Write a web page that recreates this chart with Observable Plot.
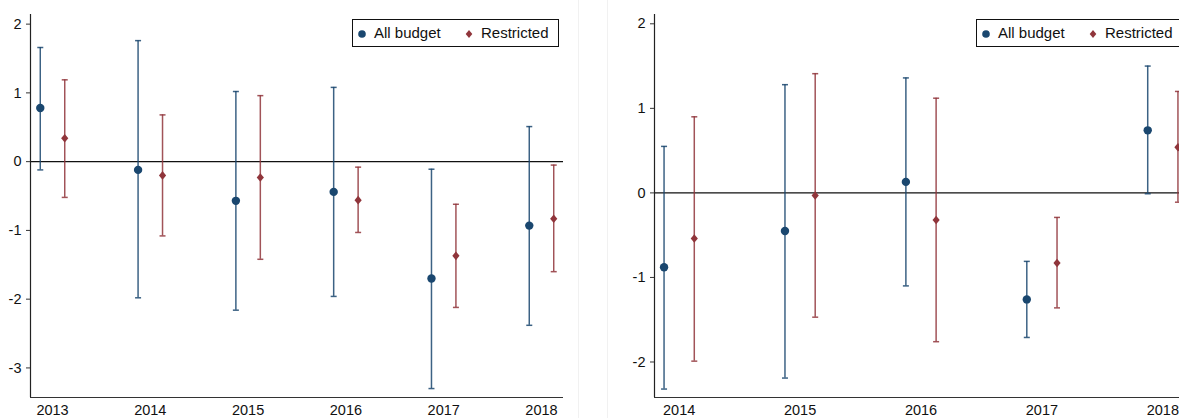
<!DOCTYPE html>
<html>
<head>
<meta charset="utf-8">
<script src="https://cdn.jsdelivr.net/npm/d3@7"></script>
<script src="https://cdn.jsdelivr.net/npm/@observablehq/plot@0.6"></script>
<style>
  html, body { margin: 0; padding: 0; background: #fff; }
  #wrap { position: relative; width: 1179px; height: 418px; overflow: hidden; font-family: "Liberation Sans", Arial, Helvetica, sans-serif; }
  .panel { position: absolute; top: 0; }
  .panel svg { max-width: none !important; }
  .sep { position: absolute; top: 0; width: 1px; height: 418px; background: #f1f1f1; }
  .legend { position: absolute; top: 19px; height: 28px; border: 1px solid #111; box-sizing: border-box; background: #fff; font-size: 15px; color: #111; }
  .legend span { position: absolute; top: 4px; white-space: nowrap; }
  .legend svg { position: absolute; top: 8px; }
</style>
</head>
<body>
<div id="wrap">
  <div class="panel" id="left" style="left:0px; width:578px"></div>
  <div class="sep" style="left:578px"></div>
  <div class="sep" style="left:607px"></div>
  <div class="panel" id="right" style="left:578px; width:620px"></div>
</div>
<script>
// ---- Data: left panel ----
const yearsLeft = [2013, 2014, 2015, 2016, 2017, 2018];
const leftAllEst = [0.78, -0.12, -0.57, -0.44, -1.70, -0.93];
const leftAllLo  = [-0.12, -1.98, -2.16, -1.96, -3.30, -2.38];
const leftAllHi  = [1.66, 1.76, 1.02, 1.08, -0.11, 0.51];
const leftResEst = [0.34, -0.20, -0.23, -0.56, -1.37, -0.83];
const leftResLo  = [-0.52, -1.08, -1.42, -1.03, -2.12, -1.60];
const leftResHi  = [1.19, 0.68, 0.96, -0.08, -0.62, -0.05];
const leftYTicks = [-3, -2, -1, 0, 1, 2];

// ---- Data: right panel ----
const yearsRight = [2014, 2015, 2016, 2017, 2018];
const rightAllEst = [-0.88, -0.45, 0.13, -1.26, 0.74];
const rightAllLo  = [-2.32, -2.19, -1.10, -1.71, -0.01];
const rightAllHi  = [0.55, 1.28, 1.36, -0.81, 1.50];
const rightResEst = [-0.54, -0.03, -0.32, -0.83, 0.54];
const rightResLo  = [-1.99, -1.47, -1.76, -1.36, -0.11];
const rightResHi  = [0.90, 1.41, 1.12, -0.29, 1.20];
const rightYTicks = [-2, -1, 0, 1, 2];

const seriesNames = ["All budget", "Restricted"];
const colors = {"All budget": "#1a476f", "Restricted": "#90353b"};

function rows(years, allEst, allLo, allHi, resEst, resLo, resHi) {
  const out = [];
  years.forEach((y, i) => {
    out.push({year: y, series: "All budget", est: allEst[i], lo: allLo[i], hi: allHi[i]});
    out.push({year: y, series: "Restricted", est: resEst[i], lo: resLo[i], hi: resHi[i]});
  });
  return out;
}

const capSymbol = { draw(ctx) { ctx.moveTo(-3, 0); ctx.lineTo(3, 0); } };
const diamondSymbol = { draw(ctx) { ctx.moveTo(0, -4.3); ctx.lineTo(3.6, 0); ctx.lineTo(0, 4.3); ctx.lineTo(-3.6, 0); ctx.closePath(); } };
const xpos = d => d.year + (d.series === "All budget" ? -0.125 : 0.125);

function panel({data, years, yTicks, xDomain, yDomain, width, marginLeft, marginRight}) {
  return Plot.plot({
    width, height: 418,
    marginLeft, marginRight, marginTop: 14, marginBottom: 21,
    style: {fontFamily: '"Liberation Sans", Arial, Helvetica, sans-serif', fontSize: "14.5px", color: "#111", background: "transparent", overflow: "visible"},
    x: {domain: xDomain},
    y: {domain: yDomain},
    marks: [
      Plot.ruleY([0], {stroke: "#111", strokeWidth: 1.3}),
      Plot.ruleX(data, {x: xpos, y1: "lo", y2: "hi", stroke: d => colors[d.series], strokeWidth: 1.5, strokeOpacity: 0.85}),
      Plot.dot(data, {x: xpos, y: "lo", symbol: capSymbol, r: 3, stroke: d => colors[d.series], strokeWidth: 1.5, strokeOpacity: 0.85}),
      Plot.dot(data, {x: xpos, y: "hi", symbol: capSymbol, r: 3, stroke: d => colors[d.series], strokeWidth: 1.5, strokeOpacity: 0.85}),
      Plot.dot(data.filter(d => d.series === "All budget"), {x: xpos, y: "est", r: 4.2, fill: colors["All budget"], symbol: "circle"}),
      Plot.dot(data.filter(d => d.series === "Restricted"), {x: xpos, y: "est", r: 4, fill: colors["Restricted"], symbol: diamondSymbol}),
      Plot.ruleX([xDomain[0]], {stroke: "#222", strokeWidth: 1.2}),
      Plot.ruleY([yDomain[0]], {stroke: "#333", strokeWidth: 1.2}),
      Plot.axisY({ticks: yTicks, tickSize: 4, tickPadding: 5, tickFormat: d => String(d), label: null, stroke: "#333"}),
      Plot.axisX({ticks: years, tickSize: 0, tickPadding: 7, tickFormat: d => String(d), label: null})
    ]
  });
}

document.getElementById("left").append(panel({
  data: rows(yearsLeft, leftAllEst, leftAllLo, leftAllHi, leftResEst, leftResLo, leftResHi),
  years: yearsLeft, yTicks: leftYTicks,
  xDomain: [2012.775, 2018.225], yDomain: [-3.43, 2.14],
  width: 578, marginLeft: 30, marginRight: 15
}));

document.getElementById("right").append(panel({
  data: rows(yearsRight, rightAllEst, rightAllLo, rightAllHi, rightResEst, rightResLo, rightResHi),
  years: yearsRight, yTicks: rightYTicks,
  xDomain: [2013.796, 2018.204], yDomain: [-2.42, 2.11],
  width: 620, marginLeft: 76, marginRight: 11
}));

function legend(left, width) {
  const div = document.createElement("div");
  div.className = "legend";
  div.style.left = left + "px";
  div.style.width = width + "px";
  const items = [
    {name: seriesNames[0], sx: 3, tx: 21, shape: "circle"},
    {name: seriesNames[1], sx: 110, tx: 128, shape: "diamond"}
  ];
  for (const it of items) {
    const svg = d3.create("svg").attr("width", 12).attr("height", 12)
      .style("left", it.sx + "px");
    if (it.shape === "circle") {
      svg.append("circle").attr("cx", 6).attr("cy", 6).attr("r", 3.8).attr("fill", colors[it.name]);
    } else {
      svg.append("path").attr("d", "M6,2 L9.3,6 L6,10 L2.7,6 Z").attr("fill", colors[it.name]);
    }
    div.append(svg.node());
    const sp = document.createElement("span");
    sp.style.left = it.tx + "px";
    sp.textContent = it.name;
    div.append(sp);
  }
  document.getElementById("wrap").append(div);
}
legend(352, 207);
legend(976, 240);
</script>
</body>
</html>
